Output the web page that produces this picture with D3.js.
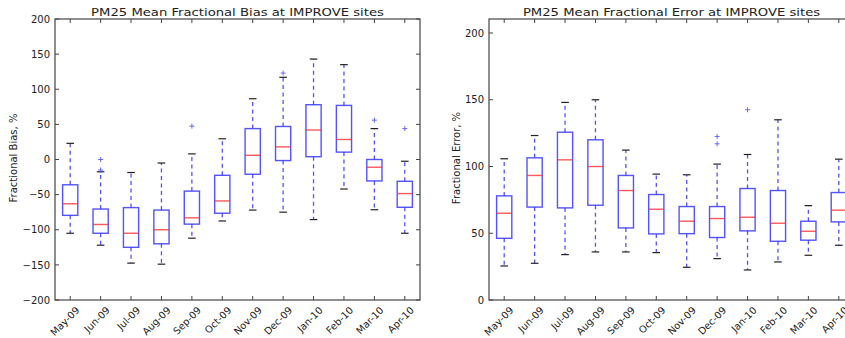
<!DOCTYPE html>
<html><head><meta charset="utf-8">
<script src="https://cdn.jsdelivr.net/npm/d3@7"></script>
<style>body{margin:0;background:#fff}svg{display:block}text{font-family:"DejaVu Sans",sans-serif;fill:#222}</style>
</head><body><svg id="c" width="845" height="338"></svg>
<script>
const months = ["May-09","Jun-09","Jul-09","Aug-09","Sep-09","Oct-09","Nov-09","Dec-09","Jan-10","Feb-10","Mar-10","Apr-10"];
// Mean Fractional Bias
const biasLow    = [-105,-122,-147.5,-149,-112,-87.5,-72,-75,-85.5,-42,-71.5,-105];
const biasQ1     = [-79.5,-105,-125,-120,-92,-76.5,-21,-1.5,4,10.5,-30.5,-68];
const biasMedian = [-63,-92.5,-105,-100,-83,-59,6,18,42,28.5,-11,-48.5];
const biasQ3     = [-36,-70.5,-68.5,-72,-45,-22.5,44,47,78,77,0,-31];
const biasHigh   = [23,-17.5,-18.5,-5,8,29.5,86.5,117,143,135,44,-2.5];
const biasFliers = [[],[0,-15],[],[],[47.5],[],[],[123],[],[],[56],[44]];
// Mean Fractional Error
const errLow    = [25.5,27.5,34,36,36,35.5,24.5,31,22.5,28.5,33.5,41];
const errQ1     = [46.2,69.6,69,71,54,49.5,49.7,46.8,51.8,44,44.8,58.5];
const errMedian = [65,93.3,105,100,82,68,59,61,62,57.5,51.5,67.3];
const errQ3     = [78,106.5,125.7,120,93.3,79,70,70,83.5,82,59,80.5];
const errHigh   = [105.8,123.2,148,150,112.3,94.3,93.8,101.8,109,135,70.7,105.5];
const errFliers = [[],[],[],[],[],[],[],[122.5,117],[142.5],[],[],[]];
const biasTicks = [-200,-150,-100,-50,0,50,100,150,200];
const errTicks  = [0,50,100,150,200];

const svg = d3.select("#c");

function panel(o){
  const g = svg.append("g");
  const x = d3.scaleLinear().domain([0.5, months.length + 0.5]).range([o.left, o.left + 365]);
  const y = d3.scaleLinear().domain(o.domain).range([300, 19]);
  const boxW = x(1.25) - x(1);
  const capW = boxW / 2;
  g.append("rect").attr("x", x.range()[0]).attr("y", 19).attr("width", 365).attr("height", 281)
    .attr("fill", "none").attr("stroke", "#444").attr("stroke-width", 1.2);
  const ya = g.append("g").attr("transform", `translate(${x.range()[0]},0)`)
    .call(d3.axisLeft(y).tickValues(o.ticks).tickSize(0).tickPadding(5).tickFormat(d => d < 0 ? "\u2212" + Math.abs(d) : d));
  ya.select(".domain").remove();
  ya.selectAll("text").attr("font-size", 10).attr("font-family", "DejaVu Sans").attr("fill", "#222");
  o.ticks.forEach(t => {
    g.append("line").attr("x1", x.range()[0]).attr("x2", x.range()[0] + 4).attr("y1", y(t)).attr("y2", y(t)).attr("stroke", "#444");
    g.append("line").attr("x1", x.range()[1]).attr("x2", x.range()[1] - 4).attr("y1", y(t)).attr("y2", y(t)).attr("stroke", "#444");
  });
  months.forEach((m, i) => {
    const xv = x(i + 1);
    g.append("line").attr("x1", xv).attr("x2", xv).attr("y1", 300).attr("y2", 296).attr("stroke", "#444");
    g.append("line").attr("x1", xv).attr("x2", xv).attr("y1", 19).attr("y2", 23).attr("stroke", "#444");
    g.append("text").attr("transform", `translate(${xv + 5},${306}) rotate(-45)`)
      .attr("text-anchor", "end").attr("dy", "0.7em").attr("font-size", 9.8).text(m);
  });
  g.append("text").attr("transform", `translate(${(x.range()[0] + x.range()[1]) / 2},16) scale(1.2,1)`).attr("text-anchor", "middle")
    .attr("font-size", 11).text(o.title);
  g.append("text").attr("transform", `translate(${o.ylabX},158) rotate(-90)`).attr("text-anchor", "middle")
    .attr("font-size", 10).text(o.ylabel);
  const clip = "clip" + o.left;
  svg.append("clipPath").attr("id", clip).append("rect").attr("x", x.range()[0]).attr("y", 19).attr("width", 365).attr("height", 281);
  const bg = g.append("g").attr("clip-path", `url(#${clip})`);
  months.forEach((m, i) => {
    const xv = x(i + 1);
    const dash = "4,3.5";
    bg.append("line").attr("x1", xv).attr("x2", xv).attr("y1", y(o.q3[i])).attr("y2", y(o.high[i]))
      .attr("stroke", "#2a2aff").attr("stroke-width", 1.3).attr("stroke-dasharray", dash).attr("opacity", 0.8);
    bg.append("line").attr("x1", xv).attr("x2", xv).attr("y1", y(o.q1[i])).attr("y2", y(o.low[i]))
      .attr("stroke", "#2a2aff").attr("stroke-width", 1.3).attr("stroke-dasharray", dash).attr("opacity", 0.8);
    [o.high[i], o.low[i]].forEach(v => bg.append("line").attr("x1", xv - capW).attr("x2", xv + capW)
      .attr("y1", y(v)).attr("y2", y(v)).attr("stroke", "#222").attr("stroke-width", 1.2));
    bg.append("rect").attr("x", xv - boxW).attr("width", 2 * boxW).attr("y", y(o.q3[i]))
      .attr("height", y(o.q1[i]) - y(o.q3[i])).attr("fill", "none").attr("stroke", "#3535ff").attr("stroke-width", 1.4).attr("opacity", 0.85);
    bg.append("line").attr("x1", xv - boxW).attr("x2", xv + boxW).attr("y1", y(o.med[i])).attr("y2", y(o.med[i]))
      .attr("stroke", "#ff3030").attr("stroke-width", 1.4).attr("opacity", 0.8);
    o.fliers[i].forEach(v => {
      const py = y(v);
      bg.append("path").attr("d", `M${xv - 2.5},${py}H${xv + 2.5}M${xv},${py - 2.5}V${py + 2.5}`)
        .attr("stroke", "#4444ff").attr("stroke-width", 1).attr("opacity", 0.8);
    });
  });
}

panel({left: 55, domain: [-200, 200], ticks: biasTicks, title: "PM25 Mean Fractional Bias at IMPROVE sites",
  ylabel: "Fractional Bias, %", ylabX: 17,
  low: biasLow, q1: biasQ1, med: biasMedian, q3: biasQ3, high: biasHigh, fliers: biasFliers});
panel({left: 489, domain: [0, 210.5], ticks: errTicks, title: "PM25 Mean Fractional Error at IMPROVE sites",
  ylabel: "Fractional Error, %", ylabX: 460,
  low: errLow, q1: errQ1, med: errMedian, q3: errQ3, high: errHigh, fliers: errFliers});
</script></body></html>
